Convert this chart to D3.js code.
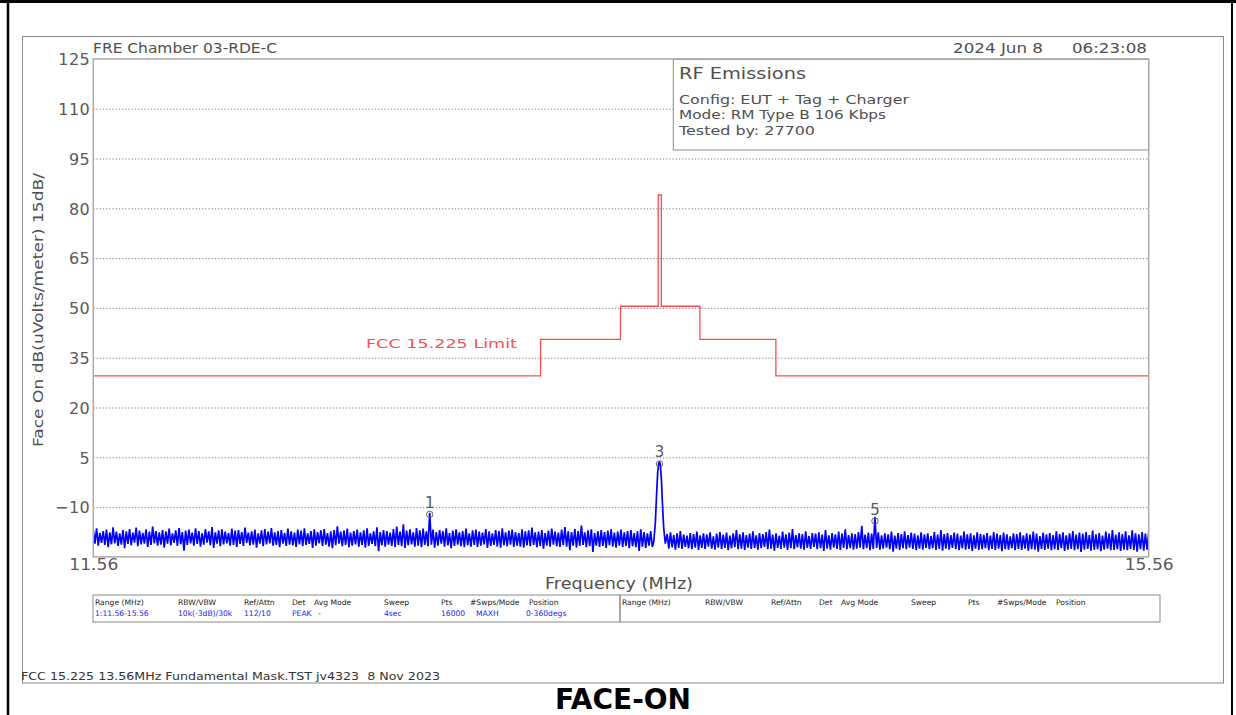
<!DOCTYPE html>
<html>
<head>
<meta charset="utf-8">
<script src="https://cdn.jsdelivr.net/npm/d3@7"></script>
<style>
  html, body { margin: 0; padding: 0; background: #fff; }
  svg { display: block; }
  text { font-family: "DejaVu Sans", "Liberation Sans", sans-serif; white-space: pre; }
</style>
</head>
<body>
<svg id="chart" width="1236" height="715"></svg>
<script>
// ---- sweep settings / axes ----
const freqStart = 11.56;
const freqStop = 15.56;
const levelMin = -25;
const levelMax = 125;
const yTicks = [125, 110, 95, 80, 65, 50, 35, 20, 5, -10];
const xTicks = [11.56, 15.56];

// ---- FCC 15.225 mask (band edges in MHz, level in dBuV/m from each edge) ----
const limitEdges  = [11.56, 13.255, 13.558, 13.701, 13.713, 13.859, 14.147, 15.56];
const limitLevels = [29.5,  40.5,   50.5,   84,     50.5,   40.5,   29.5,   29.5];

// ---- max-hold trace: per-bin peak / trough (dBuV/m), bins of 12.5 kHz ----
const traceStep = 0.0125;
const traceHi = [
  -17.0,-16.4,-17.8,-17.2,-16.8,-17.6,-16.1,-17.4,-17.9,-16.9,
  -17.3,-16.6,-17.7,-16.2,-17.1,-17.8,-16.7,-17.4,-15.9,-17.2,
  -17.6,-16.9,-17.3,-16.5,-17.9,-17.0,-16.3,-17.5,-17.1,-16.8,
  -17.7,-16.4,-17.2,-17.9,-16.6,-17.3,-16.0,-17.6,-17.0,-16.7,
  -17.4,-17.8,-16.5,-17.1,-16.9,-17.5,-16.2,-17.7,-17.3,-16.8,
  -17.9,-17.0,-16.6,-17.4,-16.3,-17.6,-17.2,-16.9,-17.8,-16.5,
  -17.3,-17.7,-16.8,-17.1,-16.4,-17.9,-17.2,-16.7,-17.5,-17.0,
  -16.6,-17.8,-17.3,-16.9,-15.8,-17.4,-17.1,-16.5,-17.7,-17.2,
  -16.8,-17.6,-17.0,-16.4,-17.9,-17.3,-16.1,-17.5,-16.9,-17.2,
  -17.7,-16.6,-15.9,-17.4,-15.2,-17.1,-16.7,-17.6,-16.3,-17.0,
  -16.5,-17.3,-11.7,-16.8,-17.5,-16.9,-17.2,-16.4,-17.8,-17.1,
  -16.7,-17.6,-17.2,-16.5,-17.9,-17.0,-16.8,-17.4,-17.7,-16.6,
  -17.3,-17.9,-16.9,-17.2,-16.4,-17.6,-17.1,-16.8,-17.5,-17.8,
  -16.7,-17.3,-17.0,-16.2,-17.6,-17.4,-16.9,-17.8,-17.1,-16.5,
  -17.4,-17.7,-16.8,-16.0,-17.3,-17.5,-16.6,-17.2,-15.6,-17.6,
  -17.0,-16.7,-17.8,-17.3,-16.9,-17.5,-17.1,-16.6,-17.7,-17.4,
  -16.8,-17.6,-17.2,-16.9,-17.8,-17.3,-16.7,-17.5,-17.9,-17.2,
  -18.0,-18.0,-18.0,-18.0,-18.1,-17.6,-18.4,-17.9,-17.2,-18.3,
  -18.6,-17.8,-18.1,-17.4,-18.5,-17.9,-18.2,-17.6,-18.8,-18.0,
  -17.5,-18.3,-17.7,-18.6,-17.9,-16.9,-18.2,-17.6,-18.4,-18.0,
  -17.3,-18.5,-17.8,-18.1,-17.5,-16.8,-18.3,-17.9,-18.6,-17.4,
  -18.2,-17.7,-16.6,-18.4,-17.9,-18.1,-17.3,-18.7,-17.8,-18.0,
  -17.6,-18.3,-16.9,-18.5,-17.8,-18.2,-17.4,-18.0,-16.7,-18.4,
  -17.9,-18.1,-17.5,-15.6,-18.3,-17.7,-18.0,-12.9,-17.6,-18.5,
  -17.9,-18.2,-17.4,-18.6,-17.8,-18.1,-17.3,-18.4,-17.7,-18.0,
  -18.5,-17.6,-18.2,-17.9,-18.7,-17.5,-18.3,-16.9,-18.1,-17.8,
  -18.4,-17.7,-18.0,-18.6,-17.4,-18.2,-17.9,-18.5,-17.6,-18.1,
  -18.3,-17.8,-18.6,-17.5,-18.0,-18.4,-17.7,-18.2,-18.8,-17.9,
  -18.1,-17.6,-18.5,-17.9,-18.3,-17.4,-18.0,-18.7,-17.7,-18.2,
  -17.8,-18.4,-17.3,-18.1,-17.6,-18.5,-17.9,-17.2,-18.3,-17.7,
  -18.0,-17.5,-18.4,-17.1,-18.2,-17.8,-18.6,-17.4,-18.0,-16.9,
  -18.3,-17.6,-18.1,-17.3,-18.5,-17.0,-17.9,-18.2,-17.5,-18.0,
  -17.7
];
const traceLo = [
  -21.0,-21.6,-20.8,-21.4,-22.1,-21.2,-20.9,-21.7,-21.3,-22.4,
  -21.1,-21.5,-20.7,-21.8,-21.2,-21.0,-22.0,-21.4,-20.9,-21.6,
  -21.3,-22.2,-21.0,-21.5,-20.8,-21.7,-21.2,-23.1,-21.4,-20.9,
  -21.6,-21.1,-21.9,-21.3,-20.7,-21.5,-22.3,-21.0,-21.8,-21.2,
  -20.9,-21.6,-21.4,-22.0,-21.1,-21.7,-20.8,-21.5,-21.3,-22.2,
  -21.0,-21.8,-21.2,-20.9,-21.6,-21.4,-22.1,-21.0,-21.7,-21.3,
  -21.5,-22.0,-21.2,-21.8,-21.4,-21.1,-22.3,-21.6,-20.9,-21.7,
  -21.3,-21.9,-22.4,-21.5,-21.0,-21.8,-21.4,-22.1,-21.6,-21.2,
  -21.9,-21.4,-22.2,-21.7,-21.1,-21.8,-23.3,-21.5,-21.9,-21.3,
  -21.7,-22.0,-21.4,-21.8,-22.3,-21.5,-21.2,-21.9,-21.6,-22.1,
  -21.4,-21.8,-21.3,-22.2,-21.6,-21.0,-21.9,-21.5,-22.4,-21.7,
  -21.3,-21.8,-22.1,-21.5,-21.9,-21.4,-22.0,-21.6,-21.2,-22.3,
  -21.7,-21.4,-21.9,-22.2,-21.5,-21.8,-21.3,-22.0,-21.6,-21.9,
  -22.2,-21.5,-21.8,-21.4,-22.1,-21.7,-22.5,-21.6,-21.9,-21.3,
  -21.8,-22.0,-21.5,-21.9,-23.0,-21.6,-22.2,-21.7,-21.4,-22.1,
  -21.8,-23.5,-21.6,-22.0,-21.7,-22.3,-21.5,-21.9,-22.2,-21.6,
  -22.0,-21.7,-22.4,-21.8,-22.1,-23.2,-21.9,-22.3,-21.6,-22.0,
  -22.0,-22.0,-22.0,-22.0,-22.5,-22.1,-22.8,-22.3,-22.6,-22.0,
  -22.4,-22.7,-22.2,-22.9,-22.3,-22.6,-21.9,-22.5,-22.8,-22.2,
  -22.6,-22.3,-23.0,-22.4,-22.1,-22.7,-22.5,-22.9,-22.2,-22.6,
  -22.3,-22.8,-22.4,-22.0,-22.7,-22.5,-23.1,-22.3,-22.6,-22.2,
  -22.9,-22.4,-22.7,-22.1,-22.5,-22.8,-22.3,-22.6,-22.0,-22.7,
  -22.4,-23.2,-22.5,-22.8,-22.2,-22.6,-22.9,-22.3,-22.7,-22.4,
  -22.8,-22.5,-22.2,-22.7,-22.4,-23.0,-22.6,-22.3,-22.8,-22.5,
  -22.2,-22.7,-23.4,-22.5,-22.9,-22.4,-22.7,-22.2,-22.6,-23.0,
  -22.5,-22.8,-22.3,-22.7,-22.4,-22.9,-22.6,-23.1,-22.5,-22.8,
  -22.3,-22.7,-23.0,-22.4,-22.8,-22.6,-23.2,-22.5,-22.9,-22.7,
  -22.4,-23.0,-22.6,-22.9,-22.5,-23.3,-22.7,-22.8,-22.4,-23.0,
  -22.6,-22.9,-22.5,-23.1,-22.7,-22.8,-23.4,-22.6,-22.9,-22.5,
  -23.0,-22.7,-22.9,-22.4,-23.2,-22.8,-22.6,-23.0,-22.7,-23.5,
  -22.8,-22.6,-23.1,-22.9,-22.7,-23.3,-22.8,-22.5,-23.0,-22.9,
  -22.7,-23.2,-22.8,-23.0,-22.6,-22.9,-23.4,-22.7,-23.1,-22.8,
  -22.9
];

// ---- carrier emission (MHz, dBuV/m) ----
const carrierFreq  = [13.684, 13.690, 13.695, 13.699, 13.703, 13.706, 13.709, 13.713, 13.717, 13.722, 13.728];
const carrierLevel = [-20.5,  -15.0,  -6.0,   0.5,    3.2,    3.7,    2.8,    -1.5,   -9.0,   -16.5,  -21.0];

// ---- markers ----
const markerIds   = ["1", "3", "5"];
const markerFreq  = [12.835, 13.706, 14.5225];
const markerLevel = [-12.2, 3.0, -14.2];

// ---- setup table ----
const tableHeaders = ["Range (MHz)", "RBW/VBW", "Ref/Attn", "Det", "Avg Mode", "Sweep", "Pts", "#Swps/Mode", "Position"];
const tableValues  = ["1:11.56-15.56", "10k(-3dB)/30k", "112/10", "PEAK", "-", "4sec", "16000", "MAXH", "0-360degs"];

// ---- annotation text ----
const siteTitle = "FRE Chamber 03-RDE-C";
const runDate = "2024 Jun 8";
const runTime = "06:23:08";
const infoTitle = "RF Emissions";
const infoLines = ["Config: EUT + Tag + Charger", "Mode: RM Type B 106 Kbps", "Tested by: 27700"];
const yTitle = "Face On dB(uVolts/meter) 15dB/";
const xTitle = "Frequency (MHz)";
const limitName = "FCC 15.225 Limit";
const footerText = "FCC 15.225 13.56MHz Fundamental Mask.TST jv4323  8 Nov 2023";
const caption = "FACE-ON";

// ================= drawing =================
const svg = d3.select("#chart");
const plot = { left: 93.3, right: 1148.7, top: 58.9, bottom: 556.9 };
const x = d3.scaleLinear().domain([freqStart, freqStop]).range([plot.left, plot.right]);
const y = d3.scaleLinear().domain([levelMin, levelMax]).range([plot.bottom, plot.top]);

const inkText = "#4f4f4f";

function fit(sel, w) {
  sel.attr("textLength", w).attr("lengthAdjust", "spacingAndGlyphs");
  return sel;
}

// outer page frame
svg.append("rect").attr("x", 0).attr("y", 0).attr("width", 1236).attr("height", 715).attr("fill", "#fff");
const page = svg.append("g").attr("stroke", "#000").attr("fill", "none");
page.append("line").attr("x1", 0).attr("x2", 1236).attr("y1", 1.5).attr("y2", 1.5).attr("stroke-width", 3);
page.append("line").attr("x1", 8).attr("x2", 8).attr("y1", 0).attr("y2", 715).attr("stroke-width", 2.5);
page.append("line").attr("x1", 1232).attr("x2", 1232).attr("y1", 0).attr("y2", 715).attr("stroke-width", 2);

// instrument frame
svg.append("rect").attr("x", 22.5).attr("y", 36.5).attr("width", 1201).attr("height", 646.5)
  .attr("fill", "none").attr("stroke", "#8a8a8a").attr("stroke-width", 1);

// grid
const grid = svg.append("g").attr("transform", `translate(${plot.left},0)`)
  .call(d3.axisLeft(y).tickValues(yTicks.filter(v => v < levelMax)).tickSize(-(plot.right - plot.left)).tickFormat(""));
grid.select(".domain").remove();
grid.selectAll(".tick line").attr("stroke", "#7a7a7a").attr("stroke-width", 1).attr("stroke-dasharray", "1.2,2");

// y tick labels
const yAxis = svg.append("g").attr("transform", `translate(${plot.left},0)`)
  .call(d3.axisLeft(y).tickValues(yTicks).tickSize(0).tickPadding(3).tickFormat(d3.format("d")));
yAxis.select(".domain").remove();
yAxis.selectAll("text").attr("font-size", 16).attr("fill", "#5a5a5a").attr("font-family", "DejaVu Sans")
  .attr("dy", "0.36em").attr("letter-spacing", 0.5);

// x tick labels
const xAxis = svg.append("g").attr("transform", `translate(0,${plot.bottom})`)
  .call(d3.axisBottom(x).tickValues(xTicks).tickSize(0).tickFormat(d3.format(".2f")));
xAxis.select(".domain").remove();
xAxis.selectAll("text").attr("font-size", 16).attr("fill", "#5a5a5a").attr("font-family", "DejaVu Sans")
  .attr("y", 13).attr("dy", 0).each(function () { fit(d3.select(this), 49); });

// info box
svg.append("rect").attr("x", 673.3).attr("y", 59.3).attr("width", plot.right - 673.3).attr("height", 90.7)
  .attr("fill", "#fff").attr("stroke", "#8a8a8a").attr("stroke-width", 1);
fit(svg.append("text").attr("x", 679).attr("y", 79).attr("font-size", 15).attr("fill", inkText).text(infoTitle), 127);
const infoWidths = [230, 207, 136];
infoLines.forEach((t, i) => {
  fit(svg.append("text").attr("x", 679).attr("y", 104 + i * 15.3).attr("font-size", 13).attr("fill", inkText).text(t), infoWidths[i]);
});

// limit mask
svg.append("clipPath").attr("id", "plotClip").append("rect")
  .attr("x", plot.left).attr("y", plot.top).attr("width", plot.right - plot.left).attr("height", plot.bottom - plot.top);
const limitLine = d3.line().curve(d3.curveStepAfter).x(d => x(d[0])).y(d => y(d[1]));
svg.append("path").datum(limitEdges.map((f, i) => [f, limitLevels[i]]))
  .attr("d", limitLine).attr("fill", "none").attr("stroke", "#ff4d4d").attr("stroke-width", 1.3)
  .attr("clip-path", "url(#plotClip)");
fit(svg.append("text").attr("x", 366).attr("y", 348.3).attr("font-size", 13).attr("fill", "#ff4d4d").text(limitName), 151);

// trace: each bin sweeps from its peak to its trough
const tracePts = [];
const carrierLo = carrierFreq[0] - traceStep / 2;
const carrierHi = carrierFreq[carrierFreq.length - 1];
traceHi.forEach((hi, i) => {
  const f = freqStart + i * traceStep;
  if (f >= carrierLo && f <= carrierHi) return;
  tracePts.push([f, hi]);
  const f2 = f + traceStep / 2;
  if (f2 <= freqStop) tracePts.push([f2, traceLo[i]]);
});
carrierFreq.forEach((f, i) => tracePts.push([f, carrierLevel[i]]));
tracePts.sort((a, b) => a[0] - b[0]);
svg.append("path").datum(tracePts)
  .attr("d", d3.line().x(d => x(d[0])).y(d => y(d[1])))
  .attr("fill", "none").attr("stroke", "#0000ff").attr("stroke-width", 1.7)
  .attr("stroke-linejoin", "miter").attr("stroke-miterlimit", 2)
  .attr("clip-path", "url(#plotClip)");

// markers
const mk = svg.append("g");
markerIds.forEach((id, i) => {
  const mx = x(markerFreq[i]), my = y(markerLevel[i]);
  mk.append("circle").attr("cx", mx).attr("cy", my).attr("r", 3.2)
    .attr("fill", "none").attr("stroke", "#666").attr("stroke-width", 1);
  mk.append("text").attr("x", mx).attr("y", my - 6.5).attr("text-anchor", "middle")
    .attr("font-size", 15).attr("fill", "#5a5a5a").text(id);
});

// plot frame
svg.append("rect").attr("x", plot.left).attr("y", plot.top)
  .attr("width", plot.right - plot.left).attr("height", plot.bottom - plot.top)
  .attr("fill", "none").attr("stroke", "#aaaaaa").attr("stroke-width", 1.5);

// header texts
fit(svg.append("text").attr("x", 93).attr("y", 53).attr("font-size", 14).attr("fill", inkText).text(siteTitle), 184);
fit(svg.append("text").attr("x", 953).attr("y", 53).attr("font-size", 14).attr("fill", inkText).text(runDate), 90);
fit(svg.append("text").attr("x", 1072).attr("y", 53).attr("font-size", 14).attr("fill", inkText).text(runTime), 75);

// axis titles
fit(svg.append("text").attr("transform", "translate(43,310) rotate(-90)").attr("text-anchor", "middle")
  .attr("font-size", 14).attr("fill", inkText).text(yTitle), 274);
fit(svg.append("text").attr("x", 545).attr("y", 589).attr("font-size", 15).attr("fill", inkText).text(xTitle), 148);

// setup table
const tbl = svg.append("g");
const boxes = [{ x0: 93, x1: 620, values: true }, { x0: 620, x1: 1160, values: false }];
const headerOffsets = [2, 85, 151, 199, 221, 291, 348, 377, 436];
const valueOffsets  = [2, 85, 151, 199, 225, 291, 348, 383, 433];
boxes.forEach(b => {
  tbl.append("rect").attr("x", b.x0).attr("y", 595).attr("width", b.x1 - b.x0).attr("height", 27)
    .attr("fill", "none").attr("stroke", "#8a8a8a").attr("stroke-width", 1);
  tableHeaders.forEach((h, i) => {
    tbl.append("text").attr("x", b.x0 + headerOffsets[i]).attr("y", 605).attr("font-size", 7.6)
      .attr("fill", "#222").text(h);
  });
  if (b.values) {
    tableValues.forEach((v, i) => {
      tbl.append("text").attr("x", b.x0 + valueOffsets[i]).attr("y", 616).attr("font-size", 7.6)
        .attr("fill", "#1a1aff").text(v);
    });
  }
});

// footer
fit(svg.append("text").attr("x", 21).attr("y", 680).attr("font-size", 11).attr("fill", "#333").text(footerText), 419);
svg.append("text").attr("x", 623).attr("y", 709).attr("text-anchor", "middle")
  .attr("font-family", "Liberation Sans, Arial, sans-serif").attr("font-weight", "bold")
  .attr("font-size", 28).attr("fill", "#000").text(caption);
</script>
</body>
</html>
